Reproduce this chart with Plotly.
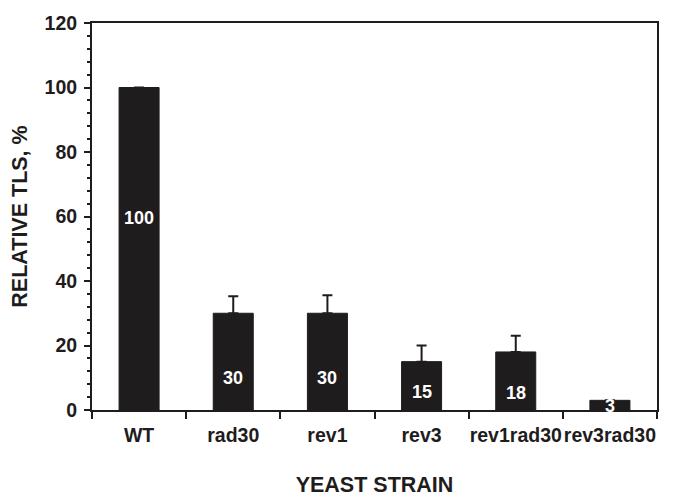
import plotly.graph_objects as go

strains = ["WT", "rad30", "rev1", "rev3", "rev1rad30", "rev3rad30"]
relative_tls = [100, 30, 30, 15, 18, 3]
error_up = [0, 5.3, 5.6, 5.0, 5.0, 0]
bar_labels = ["100", "30", "30", "15", "18", "3"]
label_y = [59.5, 9.8, 9.8, 5.7, 5.4, 1.2]

FONT = "Liberation Sans, Arial, sans-serif"

fig = go.Figure()
fig.add_trace(go.Bar(
    x=strains, y=relative_tls, width=0.425,
    marker=dict(color="#1f1c1d", line=dict(color="#1f1c1d", width=1)),
    error_y=dict(type="data", symmetric=False, array=error_up,
                 arrayminus=[0] * len(error_up),
                 color="#1f1c1d", thickness=2, width=5),
    hoverinfo="skip",
))

for s, t, yy in zip(strains, bar_labels, label_y):
    fig.add_annotation(x=s, y=yy, text="<b>%s</b>" % t, showarrow=False,
                       font=dict(family=FONT, size=18, color="white"),
                       xanchor="center", yanchor="middle")

# page body has an 8px margin, so the figure is sized/placed to compensate
fig.update_layout(
    width=667, height=490,
    margin=dict(l=84, r=18, t=15, b=88),
    paper_bgcolor="white", plot_bgcolor="white",
    showlegend=False,
    font=dict(family=FONT, color="#1f1c1d"),
)
fig.update_xaxes(
    range=[-0.5, 5.5], automargin=False, tickangle=0,
    showline=True, linecolor="#1f1c1d", linewidth=2, mirror=True,
    ticks="outside", tickson="boundaries", ticklen=7, tickwidth=2,
    tickcolor="#1f1c1d",
    tickfont=dict(family=FONT, size=19.5, color="#1f1c1d", weight="bold"),
    ticklabelstandoff=7,
    showgrid=False, zeroline=False,
    title=dict(text="<b>YEAST STRAIN</b>", standoff=32,
               font=dict(family=FONT, size=21.5, color="#1f1c1d")),
)
fig.update_yaxes(
    range=[0, 120], dtick=20, tick0=0, automargin=False,
    showline=True, linecolor="#1f1c1d", linewidth=2, mirror=True,
    ticks="outside", ticklen=6, tickwidth=2, tickcolor="#1f1c1d",
    minor=dict(ticks="outside", dtick=4, ticklen=3, tickwidth=1.5,
               tickcolor="#1f1c1d", showgrid=False),
    tickfont=dict(family=FONT, size=19.5, color="#1f1c1d", weight="bold"),
    ticklabelstandoff=3,
    showgrid=False, zeroline=False,
    title=dict(text="<b>RELATIVE TLS, %</b>", standoff=14,
               font=dict(family=FONT, size=21.5, color="#1f1c1d")),
)

fig.write_html("out.html")
